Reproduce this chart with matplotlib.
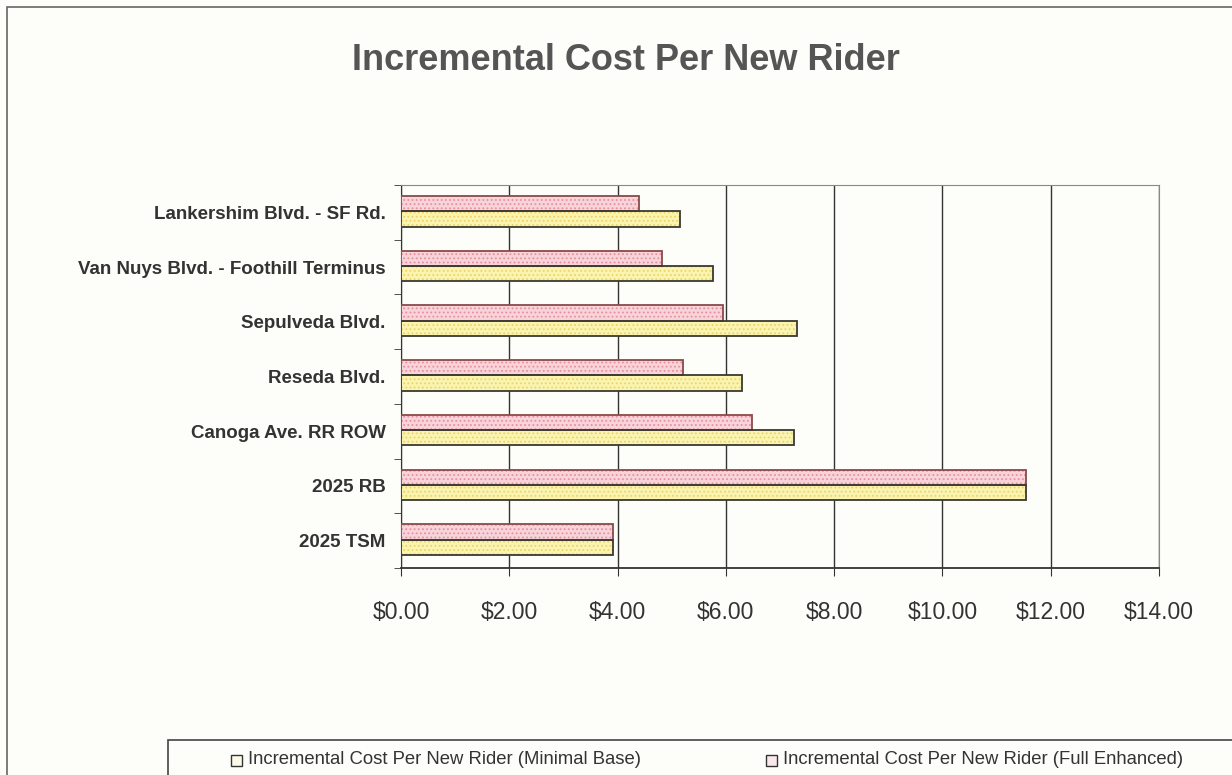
import numpy as np
import matplotlib.pyplot as plt
from matplotlib.patches import Rectangle
from matplotlib.ticker import FuncFormatter

# Corridors, listed bottom to top
corridors = ["2025 TSM", "2025 RB", "Canoga Ave. RR ROW", "Reseda Blvd.",
             "Sepulveda Blvd.", "Van Nuys Blvd. - Foothill Terminus",
             "Lankershim Blvd. - SF Rd."]
minimal_base = [3.92, 11.55, 7.25, 6.30, 7.32, 5.77, 5.16]
full_enhanced = [3.92, 11.55, 6.49, 5.21, 5.95, 4.82, 4.40]
xticks = [0, 2, 4, 6, 8, 10, 12, 14]

font = "Liberation Sans"

fig = plt.figure(figsize=(12.32, 7.75), dpi=100, facecolor="#fdfdf9")
ax = fig.add_axes([401 / 1232, 1 - 568 / 775, 758 / 1232, 383 / 775])
ax.set_facecolor("#fdfdf9")

y = np.arange(len(corridors))
h = 0.28
pink_fill, pink_dot, pink_edge = "#f7d3da", "#e8909f", "#8a4a4a"
yel_fill, yel_dot, yel_edge = "#fbf4b0", "#e9d56a", "#3a3a30"

plt.rcParams["hatch.linewidth"] = 0.8
# textured fill first, then a clean outline on top
ax.barh(y + h / 2 + 0.02, full_enhanced, height=h, color=pink_fill,
        edgecolor=pink_dot, hatch="....", linewidth=0, zorder=3)
ax.barh(y + h / 2 + 0.02, full_enhanced, height=h, fill=False,
        edgecolor=pink_edge, linewidth=1.3, zorder=4)
ax.barh(y - h / 2 + 0.02, minimal_base, height=h, color=yel_fill,
        edgecolor=yel_dot, hatch="....", linewidth=0, zorder=3)
ax.barh(y - h / 2 + 0.02, minimal_base, height=h, fill=False,
        edgecolor=yel_edge, linewidth=1.3, zorder=4)

ax.set_xlim(0, 14)
ax.set_ylim(-0.5, len(corridors) - 0.5)
ax.set_xticks(xticks)
ax.xaxis.set_major_formatter(FuncFormatter(lambda v, p: f"${v:.2f}"))
ax.xaxis.grid(True, color="#333333", linewidth=1.0, zorder=1)

ax.set_yticks(y)
ax.set_yticklabels(corridors, fontsize=13.5, fontweight="bold",
                   family=font, color="#333333")
ax.set_yticks(np.arange(-0.5, len(corridors)), minor=True)
ax.tick_params(axis="y", which="major", length=0, pad=11)
ax.tick_params(axis="y", which="minor", length=5, color="#333333", direction="out")
ax.tick_params(axis="x", length=6, color="#333333", direction="out",
               labelsize=16.5, pad=18, labelcolor="#333333")
for lbl in ax.get_xticklabels():
    lbl.set_family(font)

for side in ["top", "right"]:
    ax.spines[side].set_color("#888888")
ax.spines["left"].set_color("#333333")
ax.spines["bottom"].set_color("#333333")
ax.spines["bottom"].set_linewidth(1.3)

fig.text(0.508, 1 - 60 / 775, "Incremental Cost Per New Rider", ha="center",
         va="center", fontsize=26, fontweight="bold", color="#555555",
         family=font)

# outer frame and legend box
fig.add_artist(Rectangle((7 / 1232, -0.1), 1.1, 1 - 7 / 775 + 0.1, transform=fig.transFigure,
                         fill=False, edgecolor="#666666", linewidth=1.2))
fig.add_artist(Rectangle((168 / 1232, -0.05), 1.1, (775 - 740) / 775 + 0.05,
                         transform=fig.transFigure, fill=False,
                         edgecolor="#444444", linewidth=1.2))
legend_items = [("Incremental Cost Per New Rider (Minimal Base)", 231, "#fdfbe8"),
                ("Incremental Cost Per New Rider (Full Enhanced)", 766, "#fbe8ec")]
for text, x0, col in legend_items:
    fig.add_artist(Rectangle((x0 / 1232, 1 - 766 / 775), 11 / 1232, 11 / 775,
                             transform=fig.transFigure, facecolor=col,
                             edgecolor="#333333", linewidth=1.0))
    fig.text((x0 + 17) / 1232, 1 - 760 / 775, text, ha="left", va="center",
             fontsize=13.3, family=font, color="#333333")

fig.savefig("out.png", dpi=100, facecolor=fig.get_facecolor())
